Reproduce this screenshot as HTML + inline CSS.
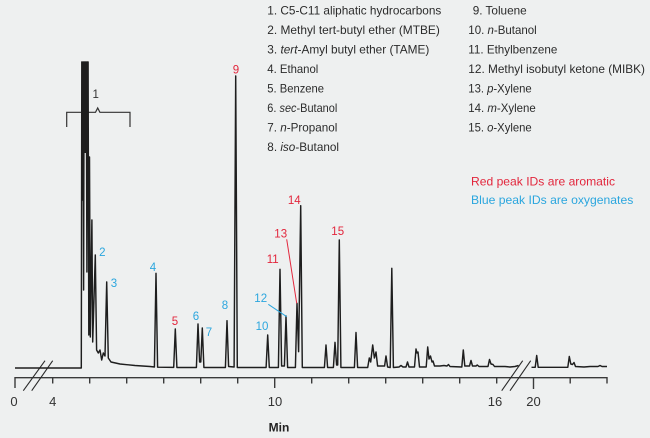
<!DOCTYPE html>
<html>
<head>
<meta charset="utf-8">
<style>
html,body{margin:0;padding:0;background:#eef0f0;}
svg{display:block;}
text{font-family:"Liberation Sans",sans-serif;}
</style>
</head>
<body>
<svg width="650" height="438" viewBox="0 0 650 438" xmlns="http://www.w3.org/2000/svg">
<rect x="0" y="0" width="650" height="438" fill="#eef0f0"/>

<!-- Legend left column -->
<g font-size="12" fill="#2b2b2b">
<text x="267.3" y="14.7" textLength="174" lengthAdjust="spacingAndGlyphs">1. C5-C11 aliphatic hydrocarbons</text>
<text x="267.3" y="34.2" textLength="172.5" lengthAdjust="spacingAndGlyphs">2. Methyl tert-butyl ether (MTBE)</text>
<text x="267.3" y="53.7" textLength="162" lengthAdjust="spacingAndGlyphs">3. <tspan font-style="italic">tert</tspan>-Amyl butyl ether (TAME)</text>
<text x="267.3" y="73.2" textLength="51" lengthAdjust="spacingAndGlyphs">4. Ethanol</text>
<text x="267.3" y="92.7" textLength="56.7" lengthAdjust="spacingAndGlyphs">5. Benzene</text>
<text x="267.3" y="112.2" textLength="70" lengthAdjust="spacingAndGlyphs">6. <tspan font-style="italic">sec</tspan>-Butanol</text>
<text x="267.3" y="131.7" textLength="70" lengthAdjust="spacingAndGlyphs">7. <tspan font-style="italic">n</tspan>-Propanol</text>
<text x="267.3" y="151.2" textLength="71.7" lengthAdjust="spacingAndGlyphs">8. <tspan font-style="italic">iso</tspan>-Butanol</text>
</g>

<!-- Legend right column -->
<g font-size="12" fill="#2b2b2b">
<text x="472.7" y="14.7" textLength="54" lengthAdjust="spacingAndGlyphs">9. Toluene</text>
<text x="468.3" y="34.2" textLength="68.4" lengthAdjust="spacingAndGlyphs">10. <tspan font-style="italic">n</tspan>-Butanol</text>
<text x="468.3" y="53.7" textLength="89" lengthAdjust="spacingAndGlyphs">11. Ethylbenzene</text>
<text x="468.3" y="73.2" textLength="176.7" lengthAdjust="spacingAndGlyphs">12. Methyl isobutyl ketone (MIBK)</text>
<text x="468.3" y="92.7" textLength="63.4" lengthAdjust="spacingAndGlyphs">13. <tspan font-style="italic">p</tspan>-Xylene</text>
<text x="468.3" y="112.2" textLength="67.4" lengthAdjust="spacingAndGlyphs">14. <tspan font-style="italic">m</tspan>-Xylene</text>
<text x="468.3" y="131.7" textLength="63.4" lengthAdjust="spacingAndGlyphs">15. <tspan font-style="italic">o</tspan>-Xylene</text>
<text x="471" y="185.5" textLength="144" lengthAdjust="spacingAndGlyphs" fill="#e2263c">Red peak IDs are aromatic</text>
<text x="471" y="204" textLength="162.3" lengthAdjust="spacingAndGlyphs" fill="#2ba6de">Blue peak IDs are oxygenates</text>
</g>

<!-- Axis -->
<g stroke="#3a3a3a" stroke-width="1.4" fill="none">
<line x1="15" y1="377.7" x2="607" y2="377.7"/>
<line x1="15" y1="377" x2="15" y2="388"/>
<line x1="274.7" y1="377" x2="274.7" y2="388"/>
<line x1="533.5" y1="377" x2="533.5" y2="389"/>
<line x1="52.7" y1="377" x2="52.7" y2="383.5"/>
<line x1="89.7" y1="377" x2="89.7" y2="383.5"/>
<line x1="126.7" y1="377" x2="126.7" y2="383.5"/>
<line x1="163.7" y1="377" x2="163.7" y2="383.5"/>
<line x1="200.7" y1="377" x2="200.7" y2="383.5"/>
<line x1="237.7" y1="377" x2="237.7" y2="383.5"/>
<line x1="311.7" y1="377" x2="311.7" y2="383.5"/>
<line x1="348.7" y1="377" x2="348.7" y2="383.5"/>
<line x1="385.7" y1="377" x2="385.7" y2="383.5"/>
<line x1="422.7" y1="377" x2="422.7" y2="383.5"/>
<line x1="459.7" y1="377" x2="459.7" y2="383.5"/>
<line x1="496.7" y1="377" x2="496.7" y2="383.5"/>
<line x1="570.2" y1="377" x2="570.2" y2="383.5"/>
<line x1="607" y1="377" x2="607" y2="383.5"/>
</g>

<!-- Break marks -->
<g stroke="#2a2a2a" stroke-width="1.1" fill="none">
<line x1="23.3" y1="390.7" x2="45" y2="360.7"/>
<line x1="31.7" y1="390.7" x2="52.7" y2="360.7"/>
<line x1="501.7" y1="390.7" x2="522.7" y2="360.7"/>
<line x1="510" y1="390.7" x2="530.7" y2="360.7"/>
</g>

<!-- Tick labels -->
<g font-size="13" fill="#333" text-anchor="middle">
<text x="14" y="406">0</text>
<text x="52.7" y="406">4</text>
<text x="275" y="406">10</text>
<text x="495" y="406">16</text>
<text x="533.5" y="406">20</text>
</g>
<text x="279" y="431.7" font-size="12" font-weight="bold" fill="#222" text-anchor="middle">Min</text>

<!-- Brace for peak 1 -->
<path d="M66.7,127 L66.7,112.3 L95.5,112.3 L97.7,108 L99.9,112.3 L130,112.3 L130,127" stroke="#333" stroke-width="1.2" fill="none"/>
<text x="95.7" y="98" font-size="11.5" fill="#333" text-anchor="middle">1</text>

<!-- Solvent block -->
<rect x="81.8" y="62" width="6.2" height="66" fill="#1e1e1e"/>
<rect x="84" y="62" width="2.6" height="91" fill="#1e1e1e"/>

<!-- Chromatogram trace -->
<path fill="none" stroke="#1e1e1e" stroke-width="1.45" stroke-linejoin="round" d="
M15,368 L81.3,368 L81.8,62 L82.5,200 L83,62 L83.6,290 L84.1,62 L84.7,150 L85.2,62 L85.8,140 L86.3,62 L86.9,272 L87.5,62 L88.1,62
L88.8,335 L89.5,157 L90.3,337 L91.9,220 L92.7,342 L95.3,255 L96.6,350 L98.3,353 L100,350 L101.7,360 L103.3,353 L105,356
L106.7,282 L108.3,358 L111,362 L120,364 L135,365.5 L150,366.5 L154.4,367
L156,273.3 L157.6,367.2 L173.7,367.4 L175.3,329 L176.9,367.5 L196.4,367.5 L198,324 L199.6,362 L200.8,362 L202.3,328 L203.9,367.5
L225.4,367.5 L227,320.7 L228.6,366.5 L234.1,367 L235.7,76 L237.3,367.5 L266.1,367.5 L267.7,335 L269.3,367.5
L278.4,367.5 L280,269.3 L281.6,366 L284.4,366 L286,316 L287.6,367.5 L295.4,367.5 L297,303.3 L298.6,351.7 L300.7,205.7 L302.3,367.5
L324.4,367.5 L326,345 L327.6,367.5 L333.4,367.5 L335,342.3 L336.6,365 L337.7,365 L339.3,240 L340.9,367.5
L354.4,367.5 L356,332.5 L357.6,367.5 L367.7,367.5 L369.3,358 L370.7,362 L372.7,345 L374.4,358 L376,352 L377.6,366
L384.6,366 L386,356 L387.6,367 L390.2,367.5 L391.8,268.3 L393.4,367.5 L399,367 L401,365.5 L403,367 L406,367 L407.5,362 L409,367
L414.5,367 L416,349 L417,353 L418,352 L419.5,367 L426.2,367 L427.7,347 L429,359 L430.5,356 L432,362 L433,361 L434.5,366
L440,366 L444,365.5 L447,366 L448.5,364.5 L450,366.5 L461.8,367 L463.3,350 L464.8,366 L469.5,366 L471,360.5 L472.5,366
L476,366 L477.3,365 L479,366.5 L488,366.5 L489.5,359.5 L491,364 L493,364.5 L494.5,366.5 L505,366.5 L510,367 L515,366.5 L518.5,365.5
M531.5,367.3 L535.2,367.3 L536.7,355.5 L538.2,367.3 L567.8,367.3 L569.3,356.5 L570.8,364 L572.5,364.5 L574,362.5 L575.5,366.5
L584,367 L590,366.5 L598,366.5 L600,365.5 L602,366.5 L607,366.5"/>

<!-- Leader lines -->
<line x1="268.3" y1="304.3" x2="286.7" y2="316.7" stroke="#2ba6de" stroke-width="1"/>
<line x1="286.7" y1="239.3" x2="296.7" y2="303.3" stroke="#e2263c" stroke-width="1"/>

<!-- Peak labels -->
<g font-size="11.5" text-anchor="middle">
<text x="102.3" y="256" fill="#2ba6de">2</text>
<text x="114" y="287" fill="#2ba6de">3</text>
<text x="153" y="271" fill="#2ba6de">4</text>
<text x="175" y="325" fill="#e2263c">5</text>
<text x="196" y="320" fill="#2ba6de">6</text>
<text x="209" y="336" fill="#2ba6de">7</text>
<text x="225" y="309" fill="#2ba6de">8</text>
<text x="236" y="73.3" fill="#e2263c">9</text>
<text x="262" y="330" fill="#2ba6de">10</text>
<text x="272.7" y="263" fill="#e2263c">11</text>
<text x="260.7" y="302" fill="#2ba6de">12</text>
<text x="280.7" y="237.5" fill="#e2263c">13</text>
<text x="294.3" y="204" fill="#e2263c">14</text>
<text x="337.7" y="235" fill="#e2263c">15</text>
</g>
</svg>
</body>
</html>
